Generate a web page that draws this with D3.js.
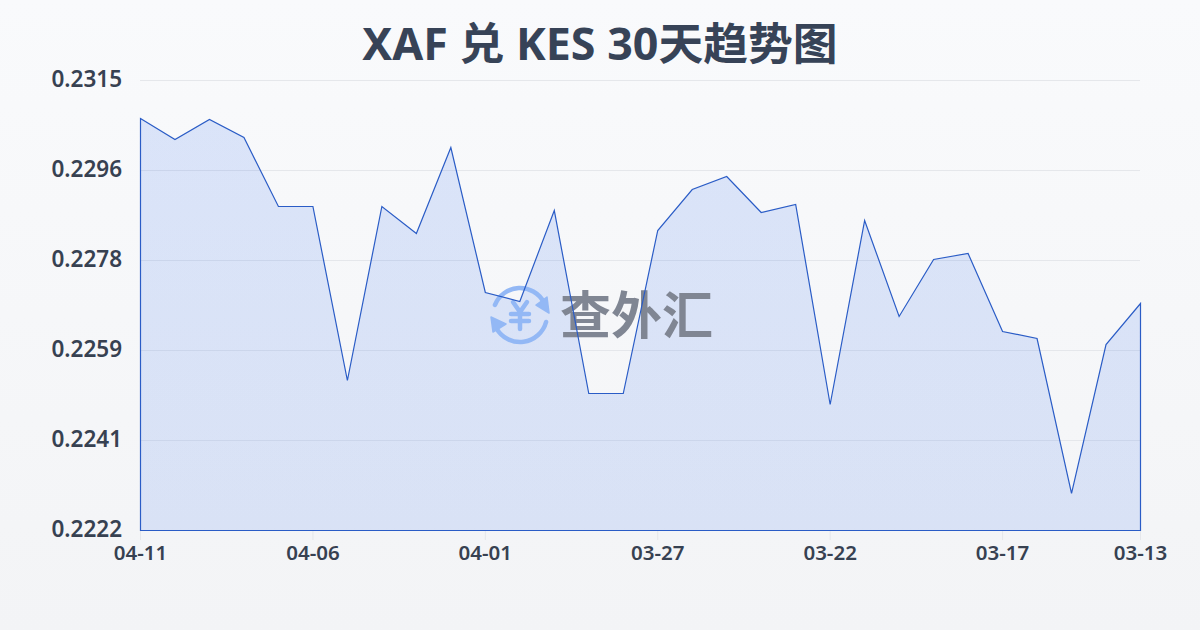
<!DOCTYPE html>
<html><head><meta charset="utf-8">
<script src="https://cdn.jsdelivr.net/npm/d3@7/dist/d3.min.js"></script>
<style>html,body{margin:0;padding:0;background:#f6f7f9}svg{display:block}text{font-family:"Noto Sans","Noto Sans CJK SC",sans-serif}</style>
</head><body><script>
const title = "XAF 兑 KES 30天趋势图";
const dates = ["04-11","04-10","04-09","04-08","04-07","04-06","04-05","04-04","04-03","04-02","04-01","03-31","03-30","03-29","03-28","03-27","03-26","03-25","03-24","03-23","03-22","03-21","03-20","03-19","03-18","03-17","03-16","03-15","03-14","03-13"];
const rates = [.230715,.230281,.230694,.230322,.228896,.228896,.2253,.228896,.228338,.230115,.227119,.226933,.228813,.225031,.225031,.2284,.229247,.229516,.228772,.228937,.224804,.228607,.226623,.227801,.227925,.226313,.226168,.222965,.226044,.226891];
const yTicks = [.2222,.22406,.22592,.22778,.22964,.2315];
const xTickDates = ["04-11","04-06","04-01","03-27","03-22","03-17","03-13"];
const W=1200,H=630,L=140,R=1140,T=80,B=530;
const svg=d3.select("body").append("svg").attr("width",W).attr("height",H);
const defs=svg.append("defs");
const bg=defs.append("linearGradient").attr("id","bg").attr("x1",0).attr("y1",0).attr("x2",0).attr("y2",1);
bg.append("stop").attr("offset",0).attr("stop-color","#f9fafc");
bg.append("stop").attr("offset",1).attr("stop-color","#f3f4f6");
const af=defs.append("linearGradient").attr("id","af").attr("x1",0).attr("y1",0).attr("x2",0).attr("y2",1);
af.append("stop").attr("offset",0).attr("stop-color","#2563eb").attr("stop-opacity",.14);
af.append("stop").attr("offset",1).attr("stop-color","#2563eb").attr("stop-opacity",.13);
svg.append("rect").attr("width",W).attr("height",H).attr("fill","url(#bg)");
const x=d3.scalePoint().domain(dates).range([L,R]);
const y=d3.scaleLinear().domain([.2222,.2315]).range([B,T]);
svg.append("text").attr("x",W/2).attr("y",60).attr("text-anchor","middle").attr("font-size",44.8).attr("font-weight",700).attr("fill","#374357").text(title);
const gy=svg.append("g").attr("transform",`translate(${L},0)`).call(d3.axisLeft(y).tickValues(yTicks).tickFormat(d3.format(".4f")).tickSize(0).tickPadding(18));
gy.select(".domain").remove();
gy.selectAll("text").attr("font-size",22.5).attr("font-weight",600).attr("fill","#374151").attr("dy","0.28em").style("font-family",'"Noto Sans",sans-serif');
gy.selectAll("line").attr("x2",R-L).attr("stroke","#e5e7eb").attr("stroke-width",1);
const gx=svg.append("g").attr("transform",`translate(0,${B})`).call(d3.axisBottom(x).tickValues(xTickDates).tickSize(10).tickPadding(5));
gx.select(".domain").remove();
gx.selectAll("line").attr("stroke","#e5e7eb");
gx.selectAll("text").attr("font-size",20.5).attr("font-weight",600).attr("fill","#374151").style("font-family",'"Noto Sans",sans-serif');
const area=d3.area().x((d,i)=>x(dates[i])).y0(B).y1(d=>y(d));
svg.append("path").datum(rates).attr("d",area).attr("transform","translate(0.5,0.5)").attr("fill","url(#af)");
// watermark
const wm=svg.append("g");
const blue="#93b8f5";
const ic=wm.append("g").attr("transform","translate(520,315)").attr("fill","none").attr("stroke",blue).attr("stroke-width",4.5).attr("stroke-linecap","round");
const rad=d=>d*Math.PI/180, arcPt=a=>[27*Math.sin(rad(a)),-27*Math.cos(rad(a))];
const arcD=(a,b)=>{const p=arcPt(a),q=arcPt(b);return `M${p[0]},${p[1]}A27,27 0 0 1 ${q[0]},${q[1]}`};
ic.append("path").attr("d",arcD(-68,62));
ic.append("path").attr("d",arcD(105,240));
ic.append("path").attr("d","M29,-2L27,-18L16,-10Z").attr("fill",blue).attr("stroke",blue).attr("stroke-width",1.5).attr("stroke-linejoin","round");
ic.append("path").attr("d","M-29,2L-27,17L-14,9Z").attr("fill",blue).attr("stroke",blue).attr("stroke-width",1.5).attr("stroke-linejoin","round");
ic.append("path").attr("d","M-7,-13L0,-3L7,-13M0,-3V14M-9,-1H9M-9,6H9").attr("stroke-width",4.5);
wm.append("text").attr("x",560).attr("y",334).attr("font-size",51).attr("font-weight",700).attr("fill","#808693").style("font-family",'"Noto Sans CJK SC"').text("查外汇");
svg.append("path").datum(rates).attr("d",area).attr("transform","translate(0.5,0.5)").attr("fill","none").attr("stroke","#2a5cc6").attr("stroke-width",1.2);
</script></body></html>
